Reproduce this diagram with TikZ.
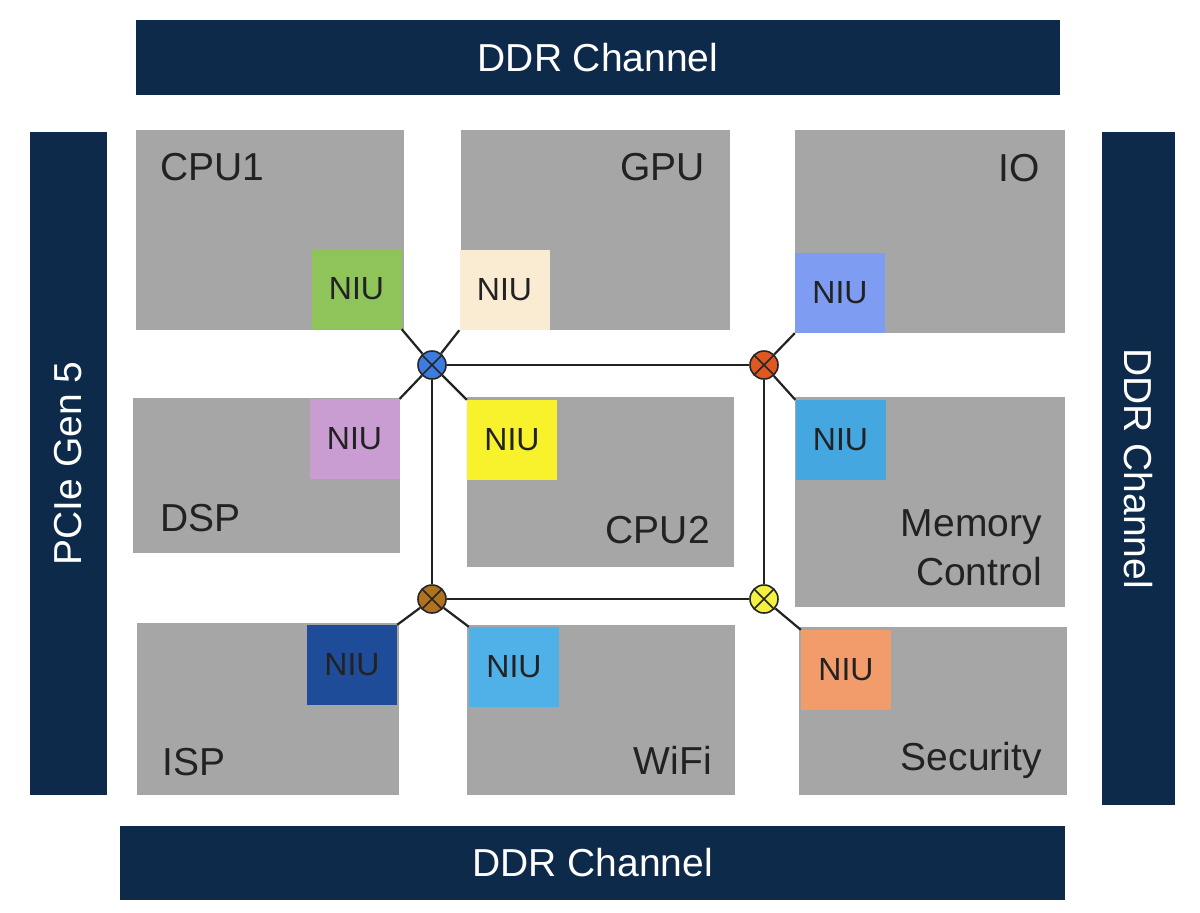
\documentclass[tikz,border=0pt]{standalone}
\usepackage{fontspec}
\setmainfont{Liberation Sans}
\usetikzlibrary{calc, positioning}

\definecolor{navy}{HTML}{0E2A4A}
\definecolor{blockgray}{HTML}{A6A6A6}
\definecolor{txtgray}{HTML}{222222}
\definecolor{niugreen}{HTML}{8FC45A}
\definecolor{niubeige}{HTML}{FAEBD3}
\definecolor{niuperi}{HTML}{7E9CF2}
\definecolor{niulilac}{HTML}{C99CD2}
\definecolor{niuyellow}{HTML}{F7F22C}
\definecolor{niusky}{HTML}{45A7DF}
\definecolor{niunavy}{HTML}{1F4C98}
\definecolor{niulight}{HTML}{50B1E9}
\definecolor{niuorange}{HTML}{F29B6B}
\definecolor{rblue}{HTML}{3C7BE0}
\definecolor{rorange}{HTML}{E0581F}
\definecolor{rbrown}{HTML}{B0721F}
\definecolor{ryellow}{HTML}{F2F040}

\tikzset{
  bar/.style={fill=navy, text=white, inner sep=0pt,
    font=\fontsize{39}{46}\selectfont},
  block/.style={fill=blockgray, inner sep=0pt},
  niu/.style={inner sep=0pt, minimum width=90pt, minimum height=80pt,
    text=txtgray, font=\fontsize{32}{38}\selectfont},
  lbl/.style={text=txtgray, inner sep=0pt, font=\fontsize{39}{49}\selectfont},
  link/.style={draw=txtgray, line width=2.2pt},
  router/.style={circle, draw=black!85, line width=1.6pt, minimum size=28pt,
    inner sep=0pt,
    path picture={\draw[black!85, line width=1.6pt]
      (path picture bounding box.north west) -- (path picture bounding box.south east)
      (path picture bounding box.north east) -- (path picture bounding box.south west);}}
}

\begin{document}
\begin{tikzpicture}[x=1pt,y=-1pt]
\fill[white] (0,0) rectangle (1200,913);
\useasboundingbox (0,0) rectangle (1200,913);

% Channels around the chip
\node[bar, minimum width=924pt, minimum height=75pt] (ddrtop) at (598,57.5) {DDR Channel};
\node[bar, minimum width=945pt, minimum height=74pt] (ddrbot) at (592.5,863) {DDR Channel};
\node[bar, rotate=90, minimum width=663pt, minimum height=77pt] (pcie) at (68.5,463.5) {PCIe Gen 5};
\node[bar, rotate=-90, minimum width=673pt, minimum height=73pt] (ddrright) at (1138.5,468.5) {DDR Channel};

% IP blocks
\node[block, minimum width=268pt, minimum height=200pt] (cpu1) at (270,230) {};
\node[block, minimum width=269pt, minimum height=200pt] (gpu) at (595.5,230) {};
\node[block, minimum width=270pt, minimum height=203pt] (io) at (930,231.5) {};
\node[block, minimum width=267pt, minimum height=155pt] (dsp) at (266.5,475.5) {};
\node[block, minimum width=267pt, minimum height=170pt] (cpu2) at (600.5,482) {};
\node[block, minimum width=270pt, minimum height=210pt] (mem) at (930,502) {};
\node[block, minimum width=262pt, minimum height=172pt] (isp) at (268,709) {};
\node[block, minimum width=268pt, minimum height=170pt] (wifi) at (601,710) {};
\node[block, minimum width=268pt, minimum height=168pt] (sec) at (933,711) {};

% Block names
\node[lbl, anchor=west] (tcpu1) at (160,167) {CPU1};
\node[lbl, anchor=east] (tgpu) at (705,167) {GPU};
\node[lbl, anchor=east] (tio) at (1040,168) {IO};
\node[lbl, anchor=west] (tdsp) at (160,518) {DSP};
\node[lbl, anchor=east] (tcpu2) at (710,530) {CPU2};
\node[lbl, anchor=east, align=right] (tmem) at (1042,548) {Memory\\Control};
\node[lbl, anchor=west] (tisp) at (162,762) {ISP};
\node[lbl, anchor=east] (twifi) at (712,760) {WiFi};
\node[lbl, anchor=east] (tsec) at (1042,760) {Security};

% Network interface units
\node[niu, fill=niugreen] (niucpu1) at (356.5,289) {NIU};
\node[niu, fill=niubeige] (niugpu) at (504.5,290) {NIU};
\node[niu, fill=niuperi] (niuio) at (840,293) {NIU};
\node[niu, fill=niulilac] (niudsp) at (354.5,439) {NIU};
\node[niu, fill=niuyellow] (niucpu2) at (512,440) {NIU};
\node[niu, fill=niusky] (niumem) at (840.5,440) {NIU};
\node[niu, fill=niunavy] (niuisp) at (352,665) {NIU};
\node[niu, fill=niulight] (niuwifi) at (514,667) {NIU};
\node[niu, fill=niuorange] (niusec) at (846,670) {NIU};

% Routers
\node[router, fill=rblue] (rnw) at (432,365) {};
\node[router, fill=rorange] (rne) at (764,365) {};
\node[router, fill=rbrown] (rsw) at (432,599) {};
\node[router, fill=ryellow] (rse) at (764,599) {};

% Ring
\draw[link] (rnw) -- (rne);
\draw[link] (rne) -- (rse);
\draw[link] (rse) -- (rsw);
\draw[link] (rsw) -- (rnw);

% Router to NIU links
\draw[link] (rnw) -- (niucpu1.south east);
\draw[link] (rnw) -- (niugpu.south west);
\draw[link] (rnw) -- (niudsp.north east);
\draw[link] (rnw) -- (niucpu2.north west);
\draw[link] (rne) -- (niuio.south west);
\draw[link] (rne) -- (niumem.north west);
\draw[link] (rsw) -- (niuisp.north east);
\draw[link] (rsw) -- (niuwifi.north west);
\draw[link] (rse) -- (niusec.north west);
\end{tikzpicture}
\end{document}
